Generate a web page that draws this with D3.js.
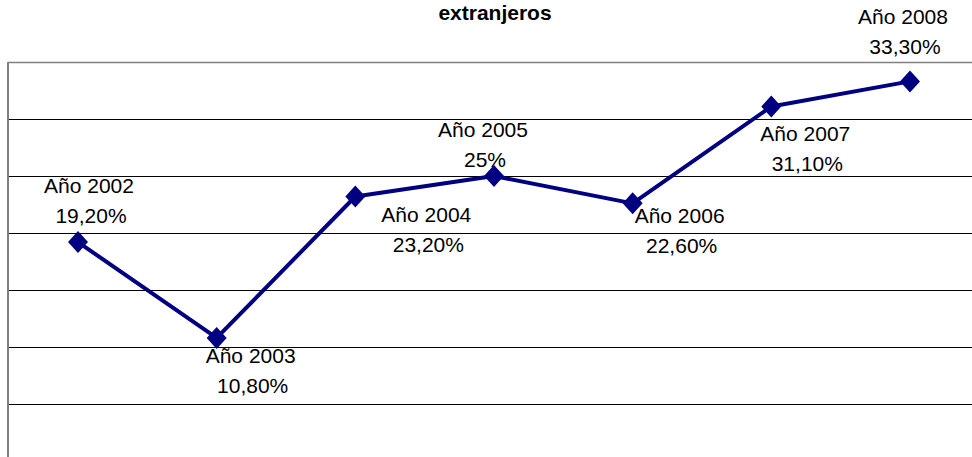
<!DOCTYPE html>
<html><head><meta charset="utf-8">
<script src="https://cdn.jsdelivr.net/npm/d3@7"></script>
<style>body{margin:0;background:#fff;}svg{display:block;}</style>
</head><body>
<svg id="c" width="972" height="457"></svg>
<script>
const categories = ["Año 2002","Año 2003","Año 2004","Año 2005","Año 2006","Año 2007","Año 2008"];
const values = [19.2, 10.8, 23.2, 25, 22.6, 31.1, 33.3];
const yTicks = [5, 10, 15, 20, 25, 30, 35];
const title = "extranjeros";
// label offsets (dx, dy of first line baseline) relative to each point
const labelDx = [11, 34, 71, -11, 47, 34, -7];
const labelDy = [-49, 25, 25, -39, 20, 35, -57];

const svg = d3.select("#c");
const W = 972, H = 457;
const x = d3.scaleBand().domain(categories).range([8.67, 979.3]).padding(0);
const y = d3.scaleLinear().domain([0, 35]).range([461, 62]);
const cx = d => x(d) + x.bandwidth() / 2;

// gridlines
svg.append("g").selectAll("line").data(yTicks.filter(t => t < 35)).join("line")
  .attr("x1", 8).attr("x2", W)
  .attr("y1", d => Math.round(y(d)) + 0.5).attr("y2", d => Math.round(y(d)) + 0.5)
  .attr("stroke", "#000").attr("stroke-width", 1);
// plot border (top + left) gray
svg.append("line").attr("x1", 8).attr("x2", W).attr("y1", Math.round(y(35)) + 0.5).attr("y2", Math.round(y(35)) + 0.5)
  .attr("stroke", "#808080").attr("stroke-width", 1.5);
svg.append("line").attr("x1", 8).attr("x2", 8).attr("y1", y(35)).attr("y2", H)
  .attr("stroke", "#808080").attr("stroke-width", 2);

// title
svg.append("text").attr("x", 495).attr("y", 20).attr("text-anchor", "middle")
  .attr("font-family", "Liberation Sans, Arial, sans-serif").attr("font-weight", "bold")
  .attr("font-size", 21).text(title);

const line = d3.line().x((d, i) => cx(categories[i])).y(d => y(d));
svg.append("path").datum(values).attr("d", line)
  .attr("fill", "none").attr("stroke", "#000080").attr("stroke-width", 4).attr("stroke-linejoin", "round");

svg.append("g").selectAll("path").data(values).join("path")
  .attr("transform", (d, i) => `translate(${cx(categories[i])},${y(d)})`)
  .attr("d", "M0,-11L10,0L0,11L-10,0Z").attr("fill", "#000080");

const fmt = v => (Number.isInteger(v) ? String(v) : v.toFixed(2).replace(".", ",")) + "%";
const lbl = svg.append("g").attr("font-family", "Liberation Sans, Arial, sans-serif").attr("font-size", 21)
  .attr("fill", "#000").attr("text-anchor", "middle");
values.forEach((v, i) => {
  const px = cx(categories[i]) + labelDx[i];
  const py = y(v) + labelDy[i];
  lbl.append("text").attr("x", px).attr("y", py).text(categories[i]);
  lbl.append("text").attr("x", px + 2).attr("y", py + 30).text(fmt(v));
});
</script>
</body></html>
